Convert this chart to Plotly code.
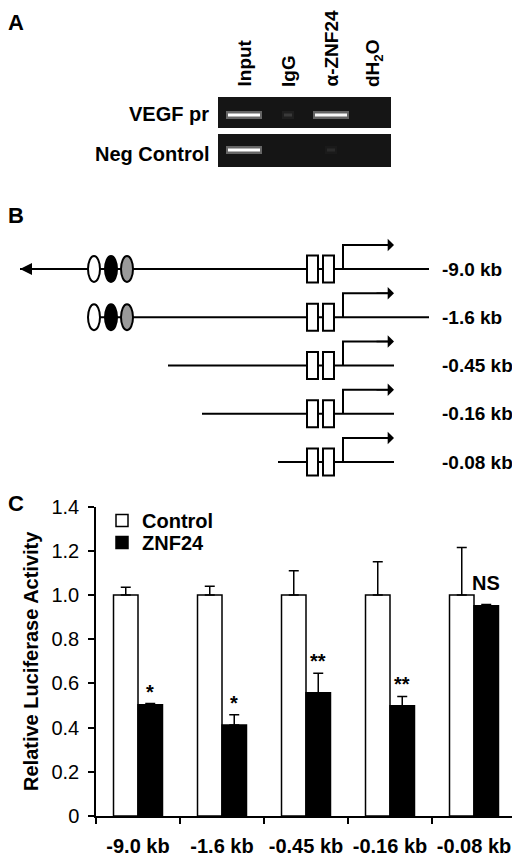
import plotly.graph_objects as go

FONT = "Liberation Sans, Arial, sans-serif"

# ---- panel C data ----
constructs = ["-9.0 kb", "-1.6 kb", "-0.45 kb", "-0.16 kb", "-0.08 kb"]
control = [1.0, 1.0, 1.0, 1.0, 1.0]
control_err = [0.035, 0.04, 0.11, 0.15, 0.215]
znf24 = [0.503, 0.412, 0.558, 0.499, 0.951]
znf24_err = [0.006, 0.046, 0.088, 0.042, 0.006]
sig = ["*", "*", "**", "**", "NS"]
y_ticks = [0, 0.2, 0.4, 0.6, 0.8, 1.0, 1.2, 1.4]
y_ticktext = ["0", "0.2", "0.4", "0.6", "0.8", "1.0", "1.2", "1.4"]

# ---- panel A (ChIP gel) ----
lanes = ["Input", "IgG", "α-ZNF24", "dH<sub>2</sub>O"]
lane_x = [244, 288, 331, 374]
gel_rows = ["VEGF pr", "Neg Control"]
band_vegf = [1.0, 0.12, 0.95, 0.0]
band_neg = [1.0, 0.0, 0.07, 0.0]

# ---- panel B (promoter constructs) ----
construct_start = [20, 88, 168, 202, 278]
construct_end = [429, 429, 394, 394, 394]
has_elements = [True, True, False, False, False]

# the page body adds an 8px margin, so the figure is 8px smaller and
# everything is laid out in window pixels
OFF = 8
W, H = 520 - OFF, 856 - OFF
def px(x):
    return (x - OFF) / W
def py(y):
    return 1 - (y - OFF) / H

fig = go.Figure()

fig.add_trace(go.Bar(x=constructs, y=control, name="Control", legend="legend",
                     marker=dict(color="white", line=dict(color="black", width=1.5)),
                     error_y=dict(type="data", array=control_err, arrayminus=[0]*5,
                                  symmetric=False, color="black", thickness=1.5, width=5)))
fig.add_trace(go.Bar(x=constructs, y=znf24, name="ZNF24", legend="legend2",
                     marker=dict(color="black", line=dict(color="black", width=1.5)),
                     error_y=dict(type="data", array=znf24_err, arrayminus=[0]*5,
                                  symmetric=False, color="black", thickness=1.5, width=5)))

shapes = []
annotations = []

def txt(x, y, s, size=20, bold=True, **kw):
    annotations.append(dict(x=x, y=y, xref="x2", yref="y2", text=s, showarrow=False,
                            font=dict(family=FONT, size=size, color="black",
                                      weight="bold" if bold else "normal"), **kw))

# panel letters (hug the left edge of the figure)
letter_font = dict(family=FONT, size=22, color="black", weight="bold")
annotations.append(dict(x=0, y=1, xref="paper", yref="paper", text="A", showarrow=False,
                        xanchor="left", yanchor="top", xshift=-2, font=letter_font))
for lab, yy in [("B", 216), ("C", 503)]:
    annotations.append(dict(x=0, y=py(yy), xref="paper", yref="paper", text=lab,
                            showarrow=False, xanchor="left", yanchor="middle", xshift=-2,
                            font=letter_font))

# gel blocks
row_y = [115, 150]
for top, bot in [(97, 128), (134, 167)]:
    shapes.append(dict(type="rect", xref="x2", yref="y2", x0=218, x1=391, y0=top, y1=bot,
                       fillcolor="#151515", line=dict(width=0), layer="above"))
for yy, bands in zip(row_y, [band_vegf, band_neg]):
    for lx, b in zip(lane_x, bands):
        if b <= 0:
            continue
        hw = 18 if b > 0.3 else 6
        shapes.append(dict(type="rect", xref="x2", yref="y2", x0=lx - hw, x1=lx + hw,
                           y0=yy - 4, y1=yy + 4, fillcolor="white", opacity=0.35 * b,
                           line=dict(width=0), layer="above"))
        shapes.append(dict(type="rect", xref="x2", yref="y2", x0=lx - hw + 2, x1=lx + hw - 2,
                           y0=yy - 1.5, y1=yy + 1.5, fillcolor="white", opacity=b,
                           line=dict(width=0), layer="above"))
for lx, lab in zip(lane_x, lanes):
    txt(lx, 89, lab, size=19, textangle=-90, xanchor="center", yanchor="bottom")
for yy, lab in zip([114, 154], gel_rows):
    txt(211, yy, lab, xanchor="right")

# promoter diagrams
for i, (x0, x1) in enumerate(zip(construct_start, construct_end)):
    y = 269 + 48.25 * i
    fig.add_trace(go.Scatter(x=[x0, x1], y=[y, y], xaxis="x2", yaxis="y2", mode="lines",
                             line=dict(color="black", width=2), showlegend=False,
                             hoverinfo="skip"))
    # TSS arrow
    fig.add_trace(go.Scatter(x=[343, 343, 388], y=[y, y - 24, y - 24], xaxis="x2", yaxis="y2",
                             mode="lines", line=dict(color="black", width=2),
                             showlegend=False, hoverinfo="skip"))
    annotations.append(dict(x=394, y=y - 24, ax=375, ay=y - 24, xref="x2", yref="y2",
                            axref="x2", ayref="y2", text="", showarrow=True,
                            arrowhead=1, arrowsize=1.4, arrowwidth=1.5, arrowcolor="black"))
    for bx in (307, 323):
        shapes.append(dict(type="rect", xref="x2", yref="y2", x0=bx, x1=bx + 11,
                           y0=y - 13.5, y1=y + 13.5, fillcolor="white",
                           line=dict(color="black", width=2), layer="above"))
    if has_elements[i]:
        for cx, col in zip((94, 111, 127), ("white", "black", "#9a9a9a")):
            shapes.append(dict(type="circle", xref="x2", yref="y2", x0=cx - 6, x1=cx + 6,
                               y0=y - 13, y1=y + 13, fillcolor=col,
                               line=dict(color="black", width=2), layer="above"))
    txt(440, y, constructs[i], size=19, xanchor="left")

# arrow pointing upstream on the full-length construct
annotations.append(dict(x=20, y=269, ax=40, ay=269, xref="x2", yref="y2", axref="x2",
                        ayref="y2", text="", showarrow=True, arrowhead=2, arrowsize=1.2,
                        arrowwidth=2, arrowcolor="black"))

# significance labels
for c, lab, cv, zv, ze in zip(constructs, sig, control, znf24, znf24_err):
    top = max(cv, zv + ze) if lab == "NS" else zv + ze
    annotations.append(dict(x=c, y=top, xref="x", yref="y", xshift=12, yshift=-1,
                            text=lab, showarrow=False, yanchor="bottom",
                            font=dict(family=FONT, size=20, color="black", weight="bold")))

legend_font = dict(family=FONT, size=20, color="black", weight="bold")
fig.update_layout(
    width=W, height=H,
    margin=dict(l=0, r=0, t=0, b=0),
    paper_bgcolor="white", plot_bgcolor="rgba(0,0,0,0)",
    barmode="group", bargap=0.417, bargroupgap=0,
    font=dict(family=FONT, color="black"),
    showlegend=True,
    legend=dict(x=px(102), y=py(501), xanchor="left", yanchor="top",
                bgcolor="rgba(0,0,0,0)", font=legend_font),
    legend2=dict(x=px(102), y=py(523), xanchor="left", yanchor="top",
                 bgcolor="rgba(0,0,0,0)", font=legend_font),
    xaxis=dict(domain=[px(96), px(516)], anchor="y", showline=True, linecolor="black",
               linewidth=1.5, ticks="outside", tickson="boundaries", ticklen=6,
               tickwidth=1.5, tickcolor="black", showgrid=False, automargin=False,
               ticklabelstandoff=11,
               tickfont=dict(family=FONT, size=20, color="black", weight="bold")),
    yaxis=dict(domain=[py(816), py(506.6)], anchor="x", range=[0, 1.4],
               tickvals=y_ticks, ticktext=y_ticktext, showline=True, linecolor="black",
               linewidth=1.5, ticks="outside", ticklen=6, tickwidth=1.5, tickcolor="black",
               showgrid=False, zeroline=False, automargin=False, ticklabelstandoff=5,
               tickfont=dict(family=FONT, size=20, color="black"),
               title=dict(text="Relative Luciferase Activity", standoff=7,
                          font=dict(family=FONT, size=20, color="black", weight="bold"))),
    xaxis2=dict(domain=[0, 1], range=[OFF, 520], anchor="y2", visible=False, fixedrange=True),
    yaxis2=dict(domain=[0, 1], range=[856, OFF], anchor="x2", visible=False, fixedrange=True),
    shapes=shapes,
    annotations=annotations,
)

fig.write_html("out.html")
